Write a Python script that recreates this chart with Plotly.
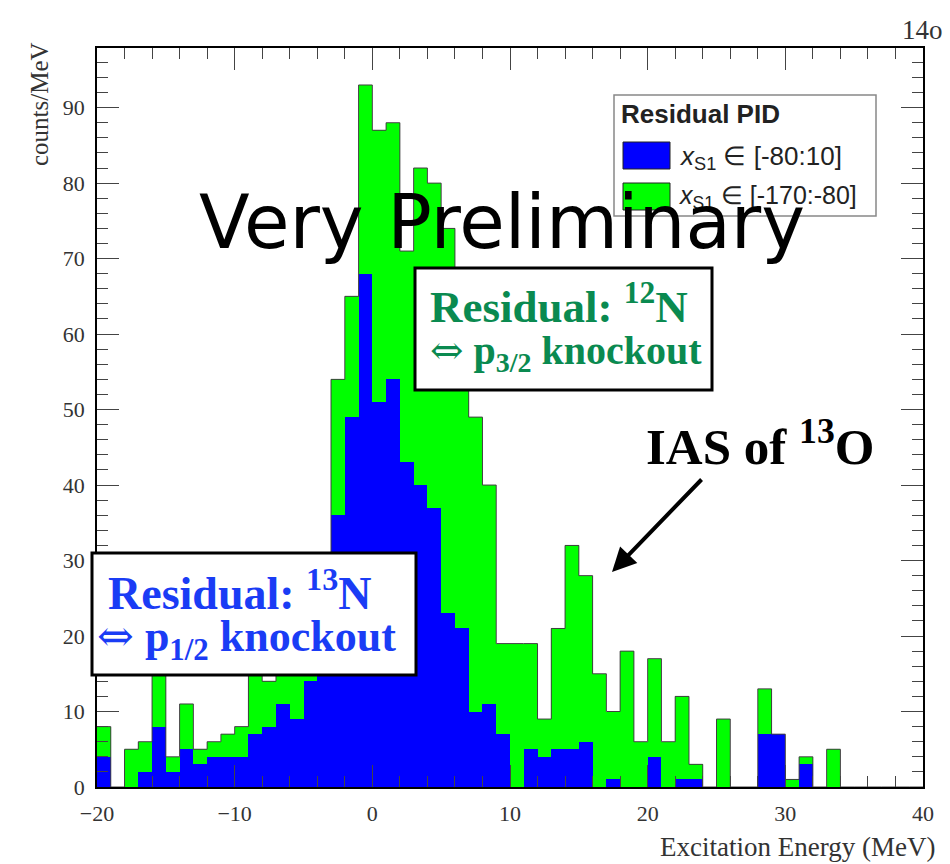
import plotly.graph_objects as go

# ---------------- data (1 MeV bins, lower edges from -20 to 39) ----------------
bin_low = list(range(-20, 40))
total_counts = [8, 0, 5, 6, 16, 4, 11, 5, 6, 7,
                8, 15, 14, 16, 17, 18, 27, 54, 65, 93,
                87, 88, 71, 82, 80, 74, 62, 49, 40, 19,
                19, 19, 9, 21, 32, 28, 15, 10, 18, 6,
                17, 6, 12, 3, 0, 9, 0, 0, 13, 7,
                1, 4, 0, 5, 0, 0, 0, 0, 0, 0]
blue_counts = [4, 0, 0, 2, 8, 2, 5, 3, 4, 4,
               4, 7, 8, 11, 9, 14, 23, 36, 49, 68,
               51, 54, 43, 40, 37, 23, 21, 10, 11, 7,
               0, 5, 4, 5, 5, 6, 0, 1, 0, 0,
               4, 0, 1, 1, 0, 0, 0, 0, 7, 7,
               0, 3, 0, 0, 0, 0, 0, 0, 0, 0]
x_ticks = [-20, -10, 0, 10, 20, 30, 40]
y_ticks = [0, 10, 20, 30, 40, 50, 60, 70, 80, 90]
legend_title = "Residual PID"
legend_labels = ["<i>x</i><sub>S1</sub> \u2208 [-80:10]", "<i>x</i><sub>S1</sub> \u2208 [-170:-80]"]

centers = [b + 0.5 for b in bin_low]
edges = bin_low + [bin_low[-1] + 1]

# ---------------- layout geometry (pixels) ----------------
W, H = 950, 864
L, R, T, B = 97, 923, 48, 787


def px(x):
    return (x - L) / (R - L)


def py(y):
    return (B - y) / (B - T)


GREEN = "#00ff00"
BLUE = "#0000ff"
SERIF = "Liberation Serif"
SANS = "Liberation Sans"
ARROW = "<span style='font-family:DejaVu Serif;font-weight:normal'>\u21d4</span>"

fig = go.Figure()
fig.add_trace(go.Bar(x=centers, y=total_counts, width=1, marker=dict(color=GREEN, line=dict(width=0)),
                     name=legend_labels[1], showlegend=False))
fig.add_trace(go.Bar(x=centers, y=blue_counts, width=1, marker=dict(color=BLUE, line=dict(width=0)),
                     name=legend_labels[0], showlegend=False))
fig.add_trace(go.Scatter(x=edges, y=total_counts + [total_counts[-1]], mode="lines",
                         line=dict(shape="hv", color="#404040", width=1), showlegend=False,
                         hoverinfo="skip"))

axis_common = dict(
    ticks="inside", ticklen=22, tickwidth=1, tickcolor="#444",
    minor=dict(ticks="inside", ticklen=11, tickwidth=1, tickcolor="#444"),
    mirror="allticks", showline=True, linecolor="black", linewidth=1.5,
    showgrid=False, zeroline=False,
    tickfont=dict(family=SERIF, size=22, color="#333"),
)

fig.update_layout(
    width=W, height=H,
    margin=dict(l=L, r=W - R, t=T, b=H - B),
    paper_bgcolor="white", plot_bgcolor="white",
    barmode="overlay", bargap=0,
    xaxis=dict(range=[-20, 40], tickvals=x_ticks, minor_dtick=2, minor_tick0=0,
               ticklabelstandoff=6, **axis_common),
    yaxis=dict(range=[0, 97.9], tickvals=y_ticks, minor_dtick=2, minor_tick0=0,
               ticklabelstandoff=6, **axis_common),
)

shapes = []
annotations = []

# legend box
shapes.append(dict(type="rect", xref="paper", yref="paper", x0=px(614), x1=px(876), y0=py(216), y1=py(95),
                   fillcolor="white", line=dict(color="#888", width=1.5), layer="above"))
shapes.append(dict(type="rect", xref="paper", yref="paper", x0=px(623), x1=px(670), y0=py(169), y1=py(142),
                   fillcolor=BLUE, line=dict(color="#222", width=1), layer="above"))
shapes.append(dict(type="rect", xref="paper", yref="paper", x0=px(623), x1=px(670), y0=py(210), y1=py(183),
                   fillcolor=GREEN, line=dict(color="#222", width=1), layer="above"))
annotations.append(dict(xref="paper", yref="paper", x=px(619), y=py(114), xanchor="left", yanchor="middle",
                        text="<b>" + legend_title + "</b>", showarrow=False,
                        font=dict(family=SANS, size=26, color="#222")))
annotations.append(dict(xref="paper", yref="paper", x=px(677), y=py(157), xanchor="left", yanchor="middle",
                        text=legend_labels[0], showarrow=False, font=dict(family=SANS, size=26, color="#222")))
annotations.append(dict(xref="paper", yref="paper", x=px(677), y=py(197), xanchor="left", yanchor="middle",
                        text=legend_labels[1], showarrow=False, font=dict(family=SANS, size=25, color="#222")))

# text boxes
shapes.append(dict(type="rect", xref="paper", yref="paper", x0=px(415), x1=px(712), y0=py(390), y1=py(268),
                   fillcolor="white", line=dict(color="black", width=3), layer="above"))
shapes.append(dict(type="rect", xref="paper", yref="paper", x0=px(92), x1=px(416), y0=py(675), y1=py(553),
                   fillcolor="white", line=dict(color="black", width=3), layer="above"))

TGREEN = "#0a8a50"
TBLUE = "#1a3cf5"
annotations.append(dict(xref="paper", yref="paper", x=px(428), y=py(303), xanchor="left", yanchor="middle",
                        text="<b>Residual: <sup>12</sup>N</b>", showarrow=False,
                        font=dict(family=SERIF, size=45, color=TGREEN)))
annotations.append(dict(xref="paper", yref="paper", x=px(428), y=py(352), xanchor="left", yanchor="middle",
                        text="<b>" + ARROW + " p<sub>3/2</sub> knockout</b>", showarrow=False,
                        font=dict(family=SERIF, size=40, color=TGREEN)))
annotations.append(dict(xref="paper", yref="paper", x=px(106), y=py(590), xanchor="left", yanchor="middle",
                        text="<b>Residual: <sup>13</sup>N</b>", showarrow=False,
                        font=dict(family=SERIF, size=46, color=TBLUE)))
annotations.append(dict(xref="paper", yref="paper", x=px(95), y=py(638), xanchor="left", yanchor="middle",
                        text="<b>" + ARROW + " p<sub>1/2</sub> knockout</b>", showarrow=False,
                        font=dict(family=SERIF, size=44, color=TBLUE)))

# IAS label and arrow
annotations.append(dict(xref="paper", yref="paper", x=px(760), y=py(443), xanchor="center", yanchor="middle",
                        text="<b>IAS of <sup>13</sup>O</b>", showarrow=False,
                        font=dict(family=SERIF, size=51, color="black")))
annotations.append(dict(xref="paper", yref="paper", x=px(612), y=py(572), ax=91, ay=-94, axref="pixel",
                        ayref="pixel", text="", showarrow=True, arrowhead=2, arrowsize=1.2, arrowwidth=4,
                        arrowcolor="black"))

# axis titles and corner label
annotations.append(dict(xref="paper", yref="paper", x=px(937), y=py(847), xanchor="right", yanchor="middle",
                        text="Excitation Energy (MeV)", showarrow=False,
                        font=dict(family=SERIF, size=27, color="#333")))
annotations.append(dict(xref="paper", yref="paper", x=px(40), y=py(40), xanchor="center", yanchor="top",
                        text="counts/MeV", textangle=-90, showarrow=False,
                        font=dict(family=SERIF, size=25, color="#333")))
annotations.append(dict(xref="paper", yref="paper", x=px(945), y=py(30), xanchor="right", yanchor="middle",
                        text="14o", showarrow=False, font=dict(family=SERIF, size=27, color="#333")))

# stamp
annotations.append(dict(xref="paper", yref="paper", x=px(502), y=py(222), xanchor="center", yanchor="middle",
                        text="Very Preliminary", showarrow=False,
                        font=dict(family="DejaVu Sans", size=74, color="black")))

fig.update_layout(shapes=shapes, annotations=annotations)
fig.write_html("out.html")
